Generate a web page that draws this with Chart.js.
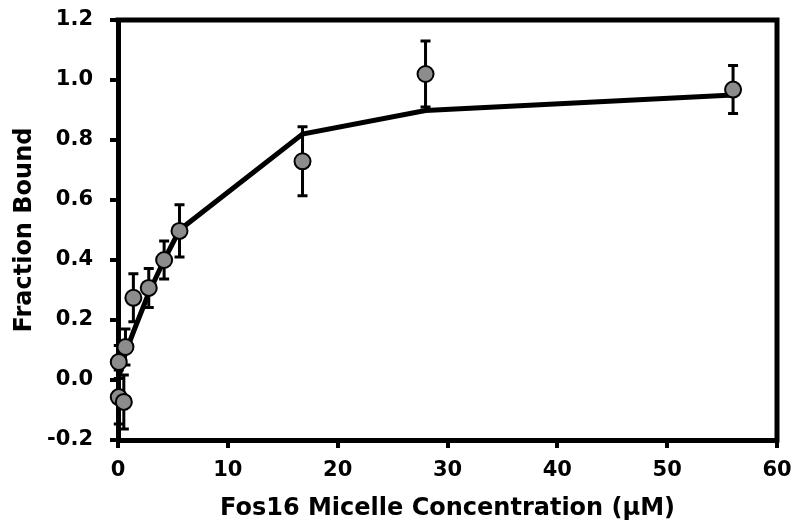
<!DOCTYPE html>
<html>
<head>
<meta charset="utf-8">
<script src="https://cdn.jsdelivr.net/npm/chart.js@4"></script>
<style>
  html, body { margin: 0; padding: 0; background: #fff; overflow: hidden; }
  #wrap { width: 793px; height: 527px; }
</style>
</head>
<body>
<div id="wrap"><canvas id="chart"></canvas></div>
<script>
// Binding data: micelle concentration (uM) vs fraction bound
const concentration = [0.07, 0.07, 0.53, 0.68, 1.4, 2.8, 4.2, 5.6, 16.8, 28, 56];
const fractionBound = [0.06, -0.057, -0.073, 0.11, 0.274, 0.307, 0.40, 0.497, 0.729, 1.02, 0.968];
const errorBars     = [0.055, 0.09, 0.09, 0.06, 0.08, 0.065, 0.063, 0.087, 0.115, 0.11, 0.08];

// Fitted binding curve
const fitConcentration = [0, 0.68, 1.4, 2.8, 4.2, 5.6, 16.8, 28, 56];
const fitFraction      = [0.0, 0.09, 0.16, 0.29, 0.40, 0.50, 0.82, 0.898, 0.95];

const xTicks = [0, 10, 20, 30, 40, 50, 60];
const yTicks = [-0.2, 0.0, 0.2, 0.4, 0.6, 0.8, 1.0, 1.2];

const FONT = "'DejaVu Sans', 'Liberation Sans', Arial, sans-serif";

// Draws the vertical error bars once the fit line is down, so points sit on top
const errorBarPlugin = {
    id: 'errorBars',
    afterDatasetDraw(chart, args) {
        if (args.index !== 1) return;
        const ctx = chart.ctx;
        const xs = chart.scales.x, ys = chart.scales.y;
        ctx.save();
        ctx.strokeStyle = '#000';
        ctx.lineWidth = 3;
        concentration.forEach((c, i) => {
            const px = xs.getPixelForValue(c);
            const top = ys.getPixelForValue(fractionBound[i] + errorBars[i]);
            const bot = ys.getPixelForValue(fractionBound[i] - errorBars[i]);
            ctx.beginPath();
            ctx.moveTo(px, top); ctx.lineTo(px, bot);
            ctx.moveTo(px - 5, top); ctx.lineTo(px + 5, top);
            ctx.moveTo(px - 5, bot); ctx.lineTo(px + 5, bot);
            ctx.stroke();
        });
        ctx.restore();
    }
};

// Top and right frame lines around the plot
const framePlugin = {
    id: 'frame',
    afterDraw(chart) {
        const {left, right, top, bottom} = chart.chartArea;
        const ctx = chart.ctx;
        ctx.save();
        ctx.strokeStyle = '#000';
        ctx.lineWidth = 5;
        ctx.lineCap = 'square';
        ctx.beginPath();
        ctx.moveTo(left, top);
        ctx.lineTo(right, top);
        ctx.lineTo(right, bottom);
        ctx.stroke();
        ctx.restore();
    }
};

new Chart(document.getElementById('chart'), {
    type: 'scatter',
    data: {
        datasets: [
            {
                label: 'Data',
                data: concentration.map((c, i) => ({x: c, y: fractionBound[i]})),
                pointRadius: 8,
                pointBackgroundColor: '#8c8c8c',
                pointBorderColor: '#000',
                pointBorderWidth: 2,
                showLine: false,
                clip: false,
                order: 1
            },
            {
                label: 'Fit',
                data: fitConcentration.map((c, i) => ({x: c, y: fitFraction[i]})),
                showLine: true,
                borderColor: '#000',
                borderWidth: 5,
                pointRadius: 0,
                tension: 0,
                order: 2
            }
        ]
    },
    options: {
        responsive: true,
        maintainAspectRatio: false,
        animation: false,
        layout: { padding: { left: 0, top: 20, right: 16, bottom: 0 } },
        plugins: {
            legend: { display: false },
            tooltip: { enabled: false }
        },
        scales: {
            x: {
                type: 'linear',
                min: 0, max: 60,
                afterBuildTicks: (scale) => { scale.ticks = xTicks.map(v => ({value: v})); },
                afterFit: (scale) => {
                    scale.height = 87;
                    scale.paddingLeft = 0;
                    scale.paddingRight = 0;
                },
                border: { display: true, color: '#000', width: 5 },
                grid: { drawOnChartArea: false, drawTicks: true, tickLength: 8, color: '#000', lineWidth: 4 },
                ticks: {
                    color: '#000',
                    padding: 10,
                    font: { family: FONT, size: 21, weight: 'bold' }
                },
                title: {
                    display: true,
                    text: 'Fos16 Micelle Concentration (\u03bcM)',
                    color: '#000',
                    padding: { top: 4, bottom: 4 },
                    font: { family: FONT, size: 24, weight: 'bold' }
                }
            },
            y: {
                type: 'linear',
                min: -0.2, max: 1.2,
                afterBuildTicks: (scale) => { scale.ticks = yTicks.map(v => ({value: v})); },
                afterFit: (scale) => {
                    scale.width = 118;
                    scale.paddingTop = 0;
                    scale.paddingBottom = 0;
                },
                border: { display: true, color: '#000', width: 5 },
                grid: { drawOnChartArea: false, drawTicks: true, tickLength: 8, color: '#000', lineWidth: 4 },
                ticks: {
                    color: '#000',
                    padding: 17,
                    callback: (v) => v.toFixed(1),
                    font: { family: FONT, size: 21, weight: 'bold' }
                },
                title: {
                    display: true,
                    text: 'Fraction Bound',
                    color: '#000',
                    padding: { top: 10, bottom: 10 },
                    font: { family: FONT, size: 24, weight: 'bold' }
                }
            }
        }
    },
    plugins: [errorBarPlugin, framePlugin]
});
</script>
</body>
</html>
